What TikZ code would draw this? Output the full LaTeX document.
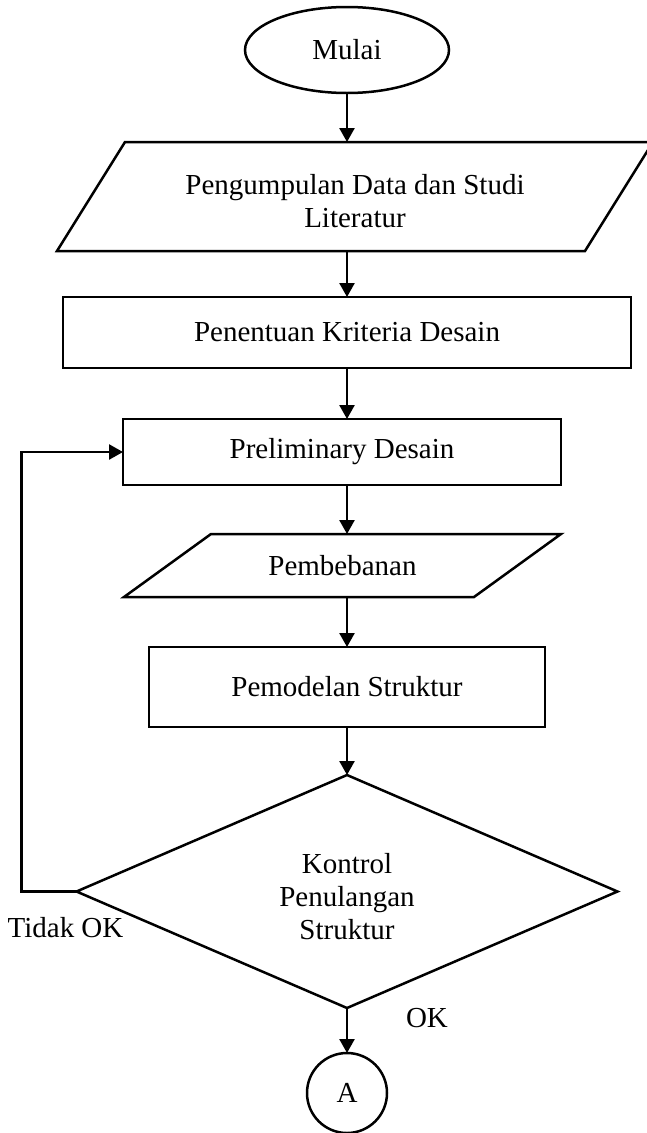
\documentclass[tikz,border=0pt]{standalone}
\usepackage{fontspec}
\setmainfont{Liberation Serif}
\usetikzlibrary{shapes.geometric,arrows.meta}
\newcommand\flowfont{\fontsize{29}{33}\selectfont}
\tikzset{
  lw/.style={line width=2.5pt},
  shapebox/.style={draw, lw, inner sep=0pt, outer sep=0pt, font=\flowfont, align=center},
  textbox/.style={inner sep=0pt, outer sep=0pt, font=\flowfont, align=center},
  arr/.style={lw, -{Triangle[length=14pt,width=15pt]}},
}
\begin{document}
\begin{tikzpicture}[x=1pt,y=-1pt]
\fill[white] (0,0) rectangle (646,1133);
\useasboundingbox (0,0) rectangle (646,1133);

\node[shapebox, ellipse, minimum width=204pt, minimum height=86pt] (mulai) at (347,50) {\raisebox{-2pt}{Mulai}};

\node[textbox, minimum width=528pt, minimum height=109pt,
  label={[textbox, yshift=-4.5pt]center:{Pengumpulan Data dan Studi\\Literatur}}] (p1) at (355,196.5) {};
\draw[lw] ([xshift=34pt]p1.north west) -- ([xshift=34pt]p1.north east) -- ([xshift=-34pt]p1.south east) -- ([xshift=-34pt]p1.south west) -- cycle;

\node[shapebox, rectangle, minimum width=568pt, minimum height=71pt] (r1) at (347,332.5) {Penentuan Kriteria Desain};

\node[shapebox, rectangle, minimum width=438pt, minimum height=66pt] (r2) at (342,452) {Preliminary Desain};

\node[textbox, minimum width=350pt, minimum height=63pt] (p2) at (342.5,565.5) {Pembebanan};
\draw[lw] ([xshift=43.5pt]p2.north west) -- ([xshift=43.5pt]p2.north east) -- ([xshift=-43.5pt]p2.south east) -- ([xshift=-43.5pt]p2.south west) -- cycle;

\node[shapebox, rectangle, minimum width=396pt, minimum height=80pt] (r3) at (347,687) {Pemodelan Struktur};

\node[shapebox, diamond, minimum width=541pt, minimum height=233pt,
  label={[textbox, yshift=-5.5pt]center:{Kontrol\\Penulangan\\Struktur}}] (d) at (347,891.5) {};

\node[shapebox, circle, minimum size=80pt] (a) at (347,1093) {A};

\node[textbox] (tidak) at (65.5,928) {Tidak OK};
\node[textbox] (ok) at (427,1018) {OK};

\draw[arr] (mulai.south) -- (mulai.south |- p1.north);
\draw[arr] (mulai.south |- p1.south) -- (r1.north);
\draw[arr] (r1.south) -- (r1.south |- r2.north);
\draw[arr] (r1.south |- r2.south) -- (r1.south |- p2.north);
\draw[arr] (r1.south |- p2.south) -- (r3.north);
\draw[arr] (r3.south) -- (d.north);
\draw[arr] (d.south) -- (a.north);
\draw[arr] (d.west) -- ++(-55pt,0) |- (r2.west);
\end{tikzpicture}
\end{document}
